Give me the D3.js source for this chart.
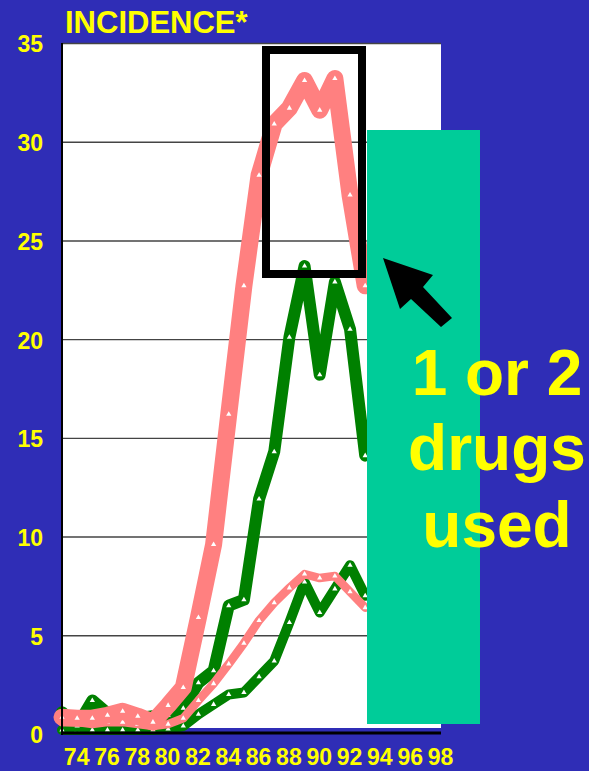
<!DOCTYPE html>
<html>
<head>
<meta charset="utf-8">
<script src="https://cdn.jsdelivr.net/npm/d3@7"></script>
<style>
  body { margin: 0; background: #2f2db6; }
  svg text { font-family: "Liberation Sans", Arial, sans-serif; font-weight: bold; fill: #ffff00; }
</style>
</head>
<body>
<div id="chart"></div>
<script>
// data
var years = [73, 74, 75, 76, 77, 78, 79, 80, 81, 82, 83, 84, 85, 86, 87, 88, 89, 90, 91, 92, 93];
var pinkThick  = [0.85, 0.8, 0.8, 0.95, 1.15, 0.9, 0.6, 1.45, 2.35, 5.9, 9.6, 16.2, 22.7, 28.3, 30.9, 31.7, 33.1, 31.6, 33.2, 27.3, 22.7];
var greenThick = [1.1, 0.4, 1.7, 1.05, 0.8, 0.8, 0.9, 0.95, 1.3, 2.6, 3.2, 6.5, 6.8, 11.9, 14.3, 20.1, 23.7, 18.2, 22.9, 20.5, 14.1];
var pinkThin   = [0.6, 0.6, 0.5, 0.6, 0.6, 0.5, 0.4, 0.5, 0.8, 1.7, 2.55, 3.55, 4.6, 5.75, 6.65, 7.4, 8.1, 7.9, 8.0, 7.2, 6.4];
var greenThin  = [0.2, 0.2, 0.2, 0.2, 0.2, 0.2, 0.2, 0.25, 0.4, 1.0, 1.5, 2.0, 2.1, 2.9, 3.7, 5.65, 7.7, 6.15, 7.35, 8.55, 7.0];
var xTicks = [74, 76, 78, 80, 82, 84, 86, 88, 90, 92, 94, 96, 98];
var yTicks = [0, 5, 10, 15, 20, 25, 30, 35];
var noteLines = ["1 or 2", "drugs", "used"];

var width = 589, height = 771;
var plot = {left: 62, right: 441, top: 43, bottom: 734};

var svg = d3.select("#chart").append("svg")
    .attr("width", width)
    .attr("height", height);

svg.append("rect").attr("width", width).attr("height", height).attr("fill", "#2f2db6");

var x = d3.scaleLinear().domain([73, 98]).range([plot.left, plot.right]);
var y = d3.scaleLinear().domain([0, 35]).range([plot.bottom, plot.top]);

// white plot area
svg.append("rect")
    .attr("x", plot.left).attr("y", plot.top)
    .attr("width", plot.right - plot.left).attr("height", 728 - plot.top)
    .attr("fill", "#ffffff");

// gridlines
svg.append("g")
    .attr("transform", "translate(" + plot.left + ",0)")
    .call(d3.axisLeft(y).tickValues(yTicks.slice(1)).tickSize(-(plot.right - plot.left)).tickFormat(""))
    .call(function(g) {
        g.select(".domain").remove();
        g.selectAll("line").attr("stroke", "#444").attr("stroke-width", 1.4);
    });

// y labels
svg.append("g")
    .attr("transform", "translate(43,1.5)")
    .call(d3.axisLeft(y).tickValues(yTicks).tickSize(0).tickPadding(0))
    .call(function(g) {
        g.select(".domain").remove();
        g.selectAll("text").attr("font-size", 23).attr("fill", "#ffff00")
            .style("font-family", "'Liberation Sans', Arial, sans-serif").style("font-weight", "bold");
    });

// x labels
svg.append("g")
    .attr("transform", "translate(-1," + 749 + ")")
    .call(d3.axisBottom(x).tickValues(xTicks).tickSize(0).tickPadding(0))
    .call(function(g) {
        g.select(".domain").remove();
        g.selectAll("text").attr("font-size", 23).attr("fill", "#ffff00")
            .style("font-family", "'Liberation Sans', Arial, sans-serif").style("font-weight", "bold");
    });

var line = d3.line()
    .x(function(d) { return x(d[0]); })
    .y(function(d) { return y(d[1]); });

var series = [
    {values: greenThin,  color: "#008000", w: 10},
    {values: greenThick, color: "#008000", w: 12},
    {values: pinkThin,   color: "#ff8080", w: 8.5},
    {values: pinkThick,  color: "#ff8080", w: 17}
];

series.forEach(function(s) {
    var pts = years.map(function(yr, i) { return [yr, s.values[i]]; });
    svg.append("path")
        .datum(pts)
        .attr("d", line)
        .attr("fill", "none")
        .attr("stroke", s.color)
        .attr("stroke-width", s.w)
        .attr("stroke-linejoin", "round")
        .attr("stroke-linecap", "round");
    // little white triangle markers
    svg.append("g").selectAll("path")
        .data(pts)
        .enter().append("path")
        .attr("d", d3.symbol(d3.symbolTriangle).size(12))
        .attr("transform", function(d) { return "translate(" + x(d[0]) + "," + y(d[1]) + ")"; })
        .attr("fill", "#ffffff");
});

// axes lines
svg.append("line")
    .attr("x1", plot.left).attr("x2", plot.left)
    .attr("y1", plot.top).attr("y2", plot.bottom + 1)
    .attr("stroke", "#000").attr("stroke-width", 2);
svg.append("line")
    .attr("x1", plot.left).attr("x2", plot.right)
    .attr("y1", 733).attr("y2", 733)
    .attr("stroke", "#000").attr("stroke-width", 3);

// title
svg.append("text")
    .attr("x", 65).attr("y", 33)
    .attr("font-size", 31)
    .text("INCIDENCE*");

// highlight box round the peak
svg.append("rect")
    .attr("x", 266).attr("y", 50)
    .attr("width", 96).attr("height", 224)
    .attr("fill", "none")
    .attr("stroke", "#000").attr("stroke-width", 8);

// green panel
svg.append("rect")
    .attr("x", 367).attr("y", 130)
    .attr("width", 113).attr("height", 594)
    .attr("fill", "#00cc99");

// arrow
svg.append("polygon")
    .attr("points", "383,258 433,275 423,287 452,318 441,327 411,299 400,309")
    .attr("fill", "#000");

// note
svg.append("text")
    .attr("text-anchor", "middle")
    .attr("font-size", 64)
    .selectAll("tspan")
    .data(noteLines)
    .enter().append("tspan")
    .attr("x", 497)
    .attr("y", function(d, i) { return [395, 470, 547][i]; })
    .text(function(d) { return d; });
</script>
</body>
</html>
